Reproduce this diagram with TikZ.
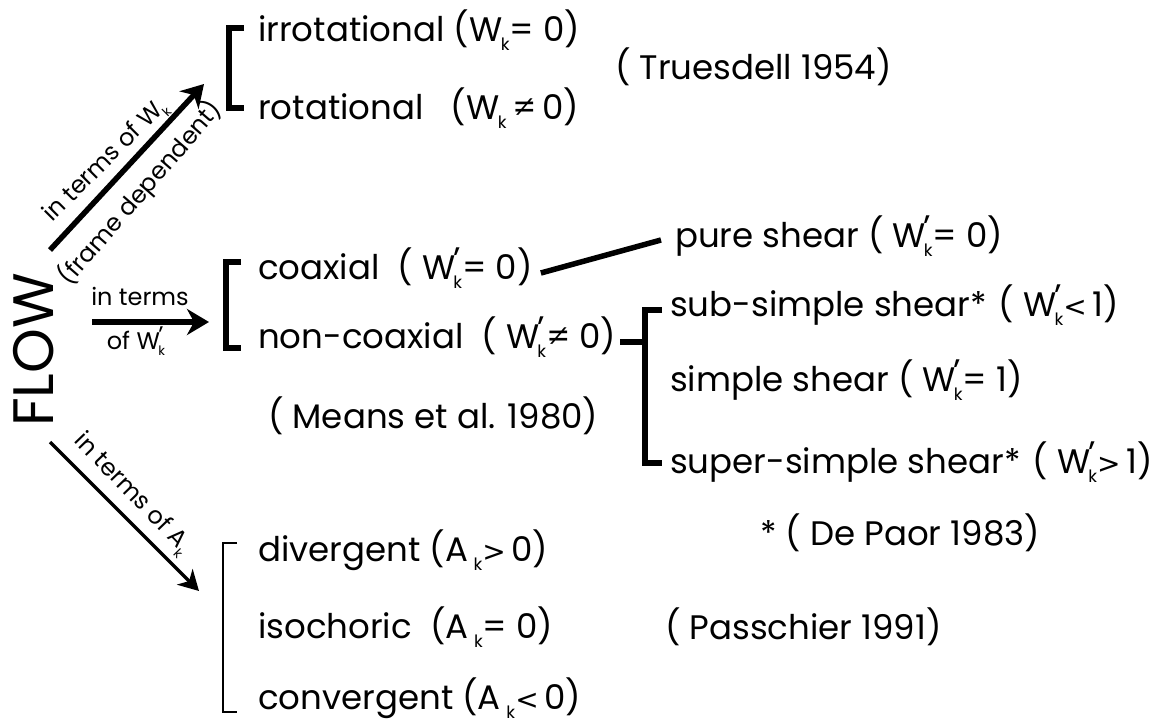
\documentclass[tikz,border=0pt]{standalone}
\usepackage{fontspec}
\setmainfont{Poppins}
\newfontfamily\symf{DejaVu Sans}
\usetikzlibrary{arrows.meta}
\newcommand\sbk{\raisebox{-0.5ex}{\fontsize{17}{17}\selectfont k}}
\newcommand\sbks{\raisebox{-0.5ex}{\fontsize{13}{13}\selectfont k}}
\newcommand\Wk{W\kern-1.5pt\sbk}
\newcommand\Wpk{W\kern-2pt\makebox[0pt][l]{\raisebox{0.45ex}{'}}\sbk}
\newcommand\Wks{W\kern-1pt\sbks}
\newcommand\Wpks{W\kern-1.5pt\makebox[0pt][l]{\raisebox{0.45ex}{'}}\sbks}
\newcommand\lt{{\symf\fontsize{28}{34}\selectfont <}}
\newcommand\gt{{\symf\fontsize{28}{34}\selectfont >}}
\begin{document}
\begin{tikzpicture}[x=1pt,y=-1pt,
  every node/.style={inner sep=0pt},
  txt/.style={anchor=west,font=\fontsize{34}{40}\selectfont},
  sm/.style={font=\fontsize{24}{28}\selectfont},
  arr/.style={line width=5.5pt,-{Stealth[length=22pt,width=26pt,inset=7pt]}},
  arrthin/.style={line width=3.5pt,-{Stealth[length=20pt,width=22pt,inset=6pt]}},
  brk/.style={line width=5.5pt},
  thinbrk/.style={line width=2pt}]
\useasboundingbox (0,0) rectangle (1161,723);
% FLOW
\node[rotate=90,font=\fontsize{57}{60}\selectfont] (flow) at (34,350) {FLOW};
% arrows
\coordinate (a1s) at (50,250); \coordinate (a1e) at (204,84);
\draw[arr] (a1s) -- (a1e);
\node[sm,rotate=45] (l1a) at (106,161) {in terms of \Wks};
\node[sm,rotate=49] (l1b) at (140,193) {(frame dependent)};
\coordinate (a2s) at (92,322); \coordinate (a2e) at (209,322);
\draw[arr] (a2s) -- (a2e);
\node[sm] (l2a) at (140,296) {in terms};
\node[sm] (l2b) at (136,341) {of \Wpks};
\coordinate (a3s) at (50,442); \coordinate (a3e) at (199,591);
\draw[arrthin] (a3s) -- (a3e);
\node[sm,rotate=-46] (l3) at (132,494) {in terms of A\sbks};
% group 1
\node[txt] (irr) at (258,30) {irrotational (\Wk= 0)};
\node[txt] (rot) at (258,108) {rotational\ \ \ (\Wk\,≠\,0)};
\node[txt] (tru) at (615,67) {( Truesdell 1954)};
\draw[brk] (244,28) -- (229,28) -- (229,108) -- (244,108);
% group 2
\node[txt] (coax) at (258,268) {coaxial\ \ ( \Wpk= 0)};
\node[txt] (ncoax) at (258,337) {non-coaxial\ \ ( \Wpk≠ 0)};
\node[txt] (means) at (268,416) {( Means et al. 1980)};
\draw[brk] (241,262) -- (226,262) -- (226,348) -- (241,348);
\node[txt] (pure) at (675,236) {pure shear ( \Wpk= 0)};
\draw[brk] ([xshift=8pt,yshift=-5pt]coax.east) -- ([xshift=-14pt,yshift=-4pt]pure.west);
\node[txt] (sub) at (670,305) {sub-simple shear*\hspace{12pt}( \Wpk\lt\,1)};
\node[txt] (simp) at (670,380) {simple shear ( \Wpk= 1)};
\node[txt] (sup) at (670,462) {super-simple shear*\hspace{12pt}( \Wpk\gt\,1)};
\coordinate (b3) at (645,342);
\draw[brk] ([xshift=4pt,yshift=-5pt]ncoax.east) -- (b3);
\draw[brk] (662,310) -- (645,310) -- (645,463) -- (662,463);
\node[txt] (dep) at (760,533) {* ( De Paor 1983)};
% group 3
\node[txt] (div) at (258,550) {divergent (A\,\sbk\gt\,0)};
\node[txt] (iso) at (258,627) {isochoric\ \ (A\,\sbk= 0)};
\node[txt] (conv) at (258,698) {convergent (A\,\sbk\lt\,0)};
\node[txt] (pas) at (665,627) {( Passchier 1991)};
\draw[thinbrk] (237,543) -- (223,543) -- (223,712) -- (237,712);
\end{tikzpicture}
\end{document}
